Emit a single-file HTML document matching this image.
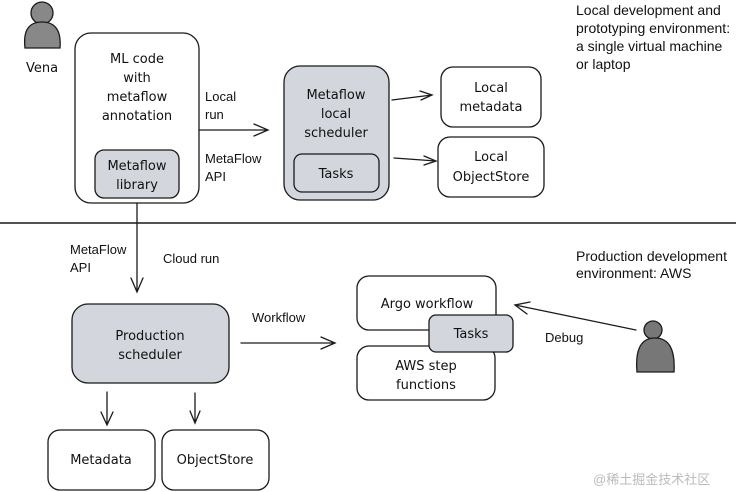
<!DOCTYPE html>
<html><head><meta charset="utf-8"><style>
html,body{margin:0;padding:0;background:#fff;}
svg{display:block}
.h{font-family:"DejaVu Sans","Liberation Sans",sans-serif;font-size:13px;fill:#111;text-anchor:middle}
.s{font-family:"Liberation Sans",sans-serif;font-size:13px;fill:#111}
.r{font-family:"Liberation Sans",sans-serif;font-size:14px;fill:#111}
</style></head><body>
<svg width="736" height="492" viewBox="0 0 736 492" xmlns="http://www.w3.org/2000/svg">
<g fill="none" stroke="#1a1a1a" stroke-width="1.3" stroke-linecap="round">
<circle cx="42" cy="13" r="11" fill="#888"/>
<path d="M25 48 Q22 22 42 22 Q62 22 60 48 Z" fill="#888"/>
<rect x="75" y="33" width="124" height="170" rx="16" fill="#fff"/>
<rect x="95" y="150" width="84" height="48" rx="9" fill="#d3d6dc"/>
<path d="M199 130 L268 130 M254 124 L268 130 L254 136"/>
<rect x="284" y="66" width="105" height="134" rx="16" fill="#d3d6dc"/>
<rect x="294" y="154" width="85" height="38" rx="8" fill="#d3d6dc"/>
<rect x="441" y="67" width="100" height="60" rx="12" fill="#fff"/>
<rect x="438" y="137" width="106" height="60" rx="12" fill="#fff"/>
<path d="M392 100 L432 95 M420 91 L432 95 L421 100"/>
<path d="M394 158 L436 161 M424 156 L436 161 L424 165"/>
<path d="M0 223 L736 223" stroke-width="1.5"/>
<path d="M137 203 L137 292 M131 278 L137 292 L143 278"/>
<rect x="72" y="304" width="157" height="79" rx="16" fill="#d3d6dc"/>
<path d="M241 343 L335 343 M321 337 L335 343 L321 349"/>
<path d="M107 392 L107 425 M101 412 L107 425 L113 412"/>
<path d="M195 393 L195 423 M190 411 L195 423 L200 411"/>
<rect x="48" y="430" width="107" height="60" rx="12" fill="#fff"/>
<rect x="162" y="430" width="107" height="60" rx="12" fill="#fff"/>
<rect x="357" y="276" width="139" height="54" rx="12" fill="#fff"/>
<rect x="357" y="346" width="138" height="54" rx="12" fill="#fff"/>
<rect x="429" y="315" width="84" height="37" rx="7" fill="#d3d6dc"/>
<path d="M636 330 L515 305 M530 302 L515 305 L527 314"/>
<circle cx="653" cy="330" r="9" fill="#777"/>
<path d="M637 372 Q634 338 655 338 Q676 338 674 372 Z" fill="#777"/>
</g>
<text class="h" x="42" y="72">Vena</text>
<text class="h" x="137" y="63">ML code</text>
<text class="h" x="137" y="82">with</text>
<text class="h" x="137" y="101">metaflow</text>
<text class="h" x="137" y="120">annotation</text>
<text class="h" x="137" y="170">Metaflow</text>
<text class="h" x="137" y="189">library</text>
<text class="s" x="205" y="101">Local</text>
<text class="s" x="205" y="119">run</text>
<text class="s" x="205" y="163">MetaFlow</text>
<text class="s" x="205" y="181">API</text>
<text class="h" x="336" y="99">Metaflow</text>
<text class="h" x="336" y="118">local</text>
<text class="h" x="336" y="137">scheduler</text>
<text class="h" x="336" y="178">Tasks</text>
<text class="h" x="491" y="92">Local</text>
<text class="h" x="491" y="111">metadata</text>
<text class="h" x="491" y="161">Local</text>
<text class="h" x="491" y="181">ObjectStore</text>
<text class="r" x="576" y="15">Local development and</text>
<text class="r" x="576" y="33">prototyping environment:</text>
<text class="r" x="576" y="51">a single virtual machine</text>
<text class="r" x="576" y="69">or laptop</text>
<text class="s" x="70" y="254">MetaFlow</text>
<text class="s" x="70" y="272">API</text>
<text class="s" x="163" y="263">Cloud run</text>
<text class="s" x="252" y="322">Workflow</text>
<text class="h" x="150" y="340">Production</text>
<text class="h" x="150" y="359">scheduler</text>
<text class="h" x="101" y="464">Metadata</text>
<text class="h" x="215" y="464">ObjectStore</text>
<text class="h" x="427" y="308">Argo workflow</text>
<text class="h" x="471" y="338">Tasks</text>
<text class="h" x="426" y="370">AWS step</text>
<text class="h" x="426" y="389">functions</text>
<text class="s" x="545" y="342">Debug</text>
<text class="r" x="576" y="261">Production development</text>
<text class="r" x="576" y="278">environment: AWS</text>
<text x="593" y="484" style="font-family:'Liberation Sans','Noto Sans CJK SC',sans-serif;font-size:13px;fill:#bbb">@稀土掘金技术社区</text>
</svg>
</body></html>
